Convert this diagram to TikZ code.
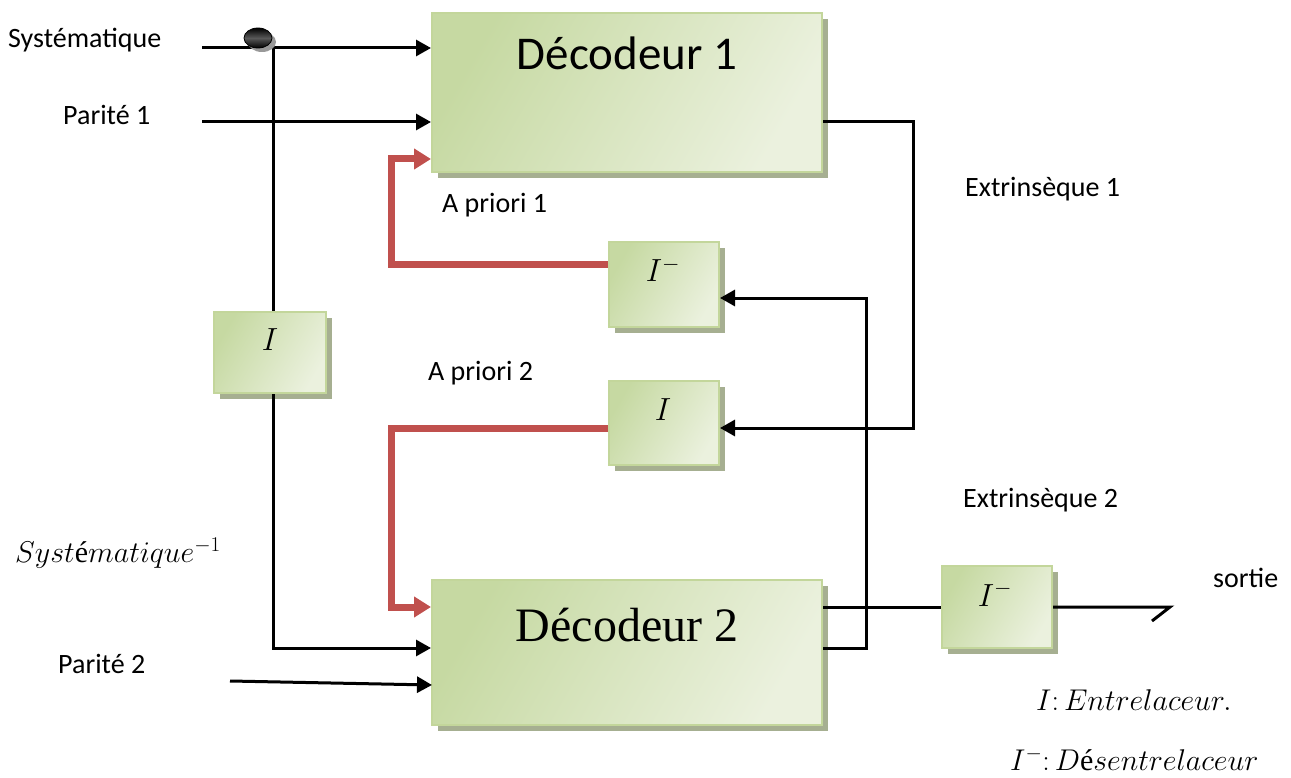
\RequirePackage{fix-cm}
\documentclass[tikz,border=0pt]{standalone}
\usepackage{fontspec}
\setmainfont{Carlito}
\newfontfamily\serifD{Liberation Serif}
\usetikzlibrary{arrows.meta,shadows}
\definecolor{boxlight}{HTML}{EBF1DE}
\definecolor{boxdark}{HTML}{C6D9A2}
\definecolor{boxborder}{HTML}{C3D69B}
\definecolor{boxshadow}{HTML}{A6AF91}
\definecolor{redline}{HTML}{C0504D}
\begin{document}
\begin{tikzpicture}[x=1pt,y=-1pt,
  gbox/.style={draw=boxborder, line width=2pt, left color=boxdark, right color=boxlight, shading angle=60,
    drop shadow={shadow xshift=6pt,shadow yshift=-6pt,fill=boxshadow,opacity=1}, inner sep=0pt},
  lbl/.style={anchor=base west, inner sep=0pt, font=\fontsize{28}{32}\selectfont},
  mlbl/.style={anchor=base west, inner sep=0pt, font=\fontsize{30}{34}\selectfont},
  boxtxt/.style={anchor=base, inner sep=0pt, font=\fontsize{32}{36}\selectfont},
  wire/.style={line width=3pt, black},
  arr/.style={wire, -{Triangle[length=15pt,width=16pt]}},
  rarr/.style={line width=7pt, redline, -{Triangle[length=17pt,width=20pt]}}
]
\useasboundingbox (0,0) rectangle (1291,778);

% boxes
\node[gbox, minimum width=390pt, minimum height=159pt] (d1) at (627,92.5) {};
\node[gbox, minimum width=390pt, minimum height=145pt] (d2) at (627,652.5) {};
\node[gbox, minimum width=112pt, minimum height=81pt] (il) at (270,352.5) {};
\node[gbox, minimum width=110pt, minimum height=84pt] (iinv) at (664,284.5) {};
\node[gbox, minimum width=110pt, minimum height=84pt] (imid) at (664,423) {};
\node[gbox, minimum width=110pt, minimum height=82pt] (iout) at (997,607) {};

% box texts
\node[anchor=base, inner sep=0pt, font=\fontsize{47}{50}\selectfont] (d1t) at (627,70) {Décodeur 1};
\node[anchor=base, inner sep=0pt, font=\serifD\fontsize{48}{52}\selectfont] (d2t) at (627,641) {Décodeur 2};
\node[boxtxt] (ilt) at (270,350) {$I$};
\node[boxtxt] (iinvt) at (663,282) {$I^{-}$};
\node[boxtxt] (imidt) at (663,420) {$I$};
\node[boxtxt] (ioutt) at (995,606) {$I^{-}$};

% labels
\node[lbl] (lsys) at (8,48) {Systématique};
\node[lbl] (lp1) at (63,125) {Parité 1};
\node[lbl] (lap1) at (442,213) {A priori 1};
\node[lbl] (lap2) at (428,380) {A priori 2};
\node[lbl] (lex1) at (965,197) {Extrinsèque 1};
\node[lbl] (lex2) at (963,507) {Extrinsèque 2};
\node[lbl] (lp2) at (58,673) {Parité 2};
\node[lbl] (lsor) at (1213,587) {sortie};
\node[mlbl] (lsysi) at (15,562) {$Syst\mbox{\serifD é}matique^{-1}$};
\node[mlbl] (leg1) at (1036,710) {$I{:}\,Entrelaceur.$};
\node[mlbl] (leg2) at (1010,770) {$I^{-}{:}\,D\mbox{\serifD é}sentrelaceur$};

% coordinates
\coordinate (sysL) at (202,48);
\coordinate (p1L) at (202,122);
\coordinate (p2L) at (230,681);
\coordinate (p2R) at (432,685);
\coordinate (tap) at (273,48);
\coordinate (outE) at (1170,607);
\coordinate (outS) at (1152,621);

% systematic input and branch
\draw[arr] (sysL) -- (sysL -| d1.west);
\draw[wire] (tap) -- (tap |- il.north);
\draw[arr] (tap |- il.south) -- (273,648) -- (d2.west |- 0,648);
\draw[arr] (p1L) -- (p1L -| d1.west);
\draw[arr] (p2L) -- (p2R);

% tap dot
\fill[gray!80] (262,42) ellipse [x radius=14pt, y radius=10pt];
\shade[top color=black, bottom color=black, middle color=gray!70!black, draw=black, line width=0.8pt] (258,38) ellipse [x radius=14pt, y radius=10pt];

% red a priori feedbacks
\draw[rarr] (iinv.west |- 0,265) -- (391,265) -- (391,159) -- (d1.west |- 0,159);
\draw[rarr] (imid.west |- 0,428) -- (391,428) -- (391,607) -- (d2.west |- 0,607);

% extrinsic paths
\draw[arr] (d1.east |- 0,122) -- (913,122) -- (913,428) -- (imid.east |- 0,428);
\draw[arr] (d2.east |- 0,648) -- (866,648) -- (866,298) -- (iinv.east |- 0,298);
\draw[wire] (d2.east |- 0,607) -- (iout.west |- 0,607);
\draw[wire] (iout.east |- 0,607) -- (outE) -- (outS);
\end{tikzpicture}
\end{document}
